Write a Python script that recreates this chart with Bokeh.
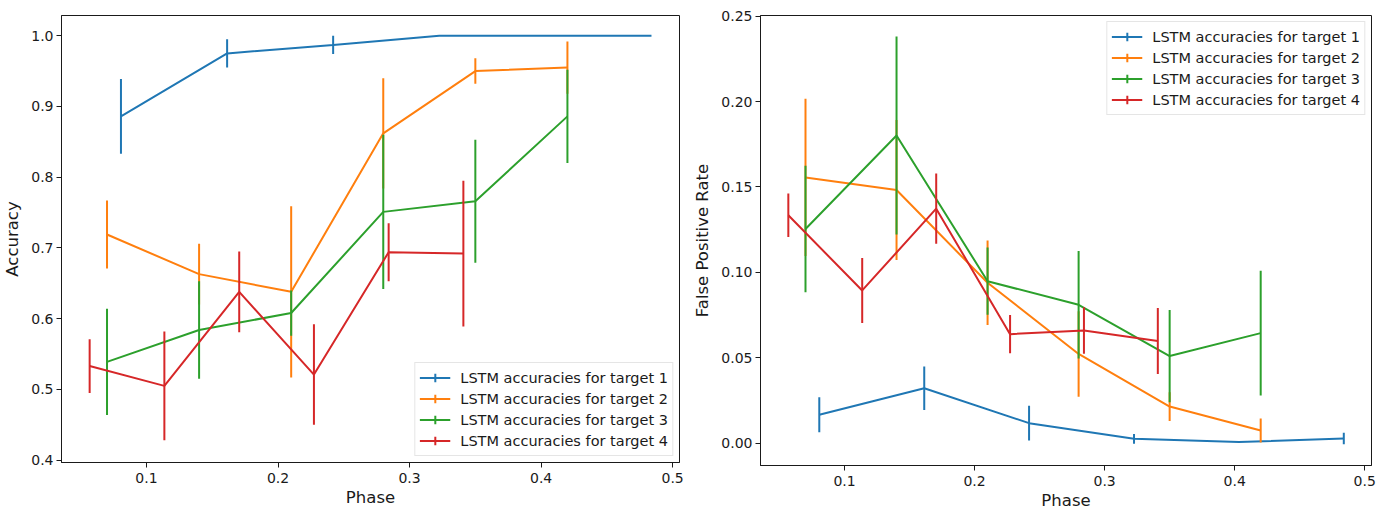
from bokeh.plotting import figure
from bokeh.layouts import row
from bokeh.models import (Range1d, FixedTicker, Legend, LegendItem, ColumnDataSource,
                          PrintfTickFormatter, Title, Spacer)
from bokeh.embed import file_html
from bokeh.resources import INLINE

# ---------------- data ----------------
labels = ["LSTM accuracies for target 1", "LSTM accuracies for target 2",
          "LSTM accuracies for target 3", "LSTM accuracies for target 4"]
colors = ["#1f77b4", "#ff7f0e", "#2ca02c", "#d62728"]

phase_t1 = [0.0806, 0.1613, 0.2419, 0.3226, 0.4032, 0.4839]
phase_t2 = [0.07, 0.14, 0.21, 0.28, 0.35, 0.42]
phase_t3 = [0.07, 0.14, 0.21, 0.28, 0.35, 0.42]
phase_t4 = [0.0568, 0.1136, 0.1705, 0.2273, 0.2841, 0.3409]

acc_t1 = [0.886, 0.975, 0.987, 1.0, 1.0, 1.0]
acc_err_t1 = [0.053, 0.020, 0.013, 0.0, 0.0, 0.0]
acc_t2 = [0.719, 0.663, 0.638, 0.862, 0.950, 0.955]
acc_err_t2 = [0.048, 0.043, 0.121, 0.078, 0.018, 0.037]
acc_t3 = [0.539, 0.584, 0.608, 0.751, 0.766, 0.886]
acc_err_t3 = [0.075, 0.069, 0.032, 0.109, 0.087, 0.066]
acc_t4 = [0.533, 0.505, 0.638, 0.521, 0.694, 0.692]
acc_err_t4 = [0.038, 0.077, 0.057, 0.071, 0.041, 0.103]

fpr_t1 = [0.0166, 0.0321, 0.0117, 0.0025, 0.0006, 0.0027]
fpr_err_t1 = [0.0102, 0.0127, 0.0102, 0.0028, 0.0, 0.0034]
fpr_t2 = [0.1556, 0.1482, 0.0939, 0.0522, 0.0214, 0.0074]
fpr_err_t2 = [0.046, 0.041, 0.0247, 0.025, 0.0084, 0.007]
fpr_t3 = [0.1254, 0.1801, 0.0948, 0.081, 0.051, 0.0644]
fpr_err_t3 = [0.037, 0.058, 0.0197, 0.0315, 0.027, 0.0365]
fpr_t4 = [0.1334, 0.0894, 0.1373, 0.0638, 0.066, 0.0598]
fpr_err_t4 = [0.0127, 0.019, 0.0206, 0.0112, 0.0136, 0.0193]

x_ticks = [0.1, 0.2, 0.3, 0.4, 0.5]
acc_ticks = [0.4, 0.5, 0.6, 0.7, 0.8, 0.9, 1.0]
fpr_ticks = [0.0, 0.05, 0.10, 0.15, 0.20, 0.25]

phases = [phase_t1, phase_t2, phase_t3, phase_t4]
acc_vals = [acc_t1, acc_t2, acc_t3, acc_t4]
acc_errs = [acc_err_t1, acc_err_t2, acc_err_t3, acc_err_t4]
fpr_vals = [fpr_t1, fpr_t2, fpr_t3, fpr_t4]
fpr_errs = [fpr_err_t1, fpr_err_t2, fpr_err_t3, fpr_err_t4]

FONT = "DejaVu Sans"
INK = "#1a1a1a"
X_RANGE = (0.0354, 0.5052)


def style_axes(p, yticks, yfmt, ylabel):
    p.xgrid.visible = False
    p.ygrid.visible = False
    p.outline_line_color = INK
    p.outline_line_width = 1
    p.xaxis.ticker = FixedTicker(ticks=x_ticks)
    p.yaxis.ticker = FixedTicker(ticks=yticks)
    p.xaxis.formatter = PrintfTickFormatter(format="%.1f")
    p.yaxis.formatter = PrintfTickFormatter(format=yfmt)
    p.yaxis.axis_label = ylabel
    for ax in (p.xaxis[0], p.yaxis[0]):
        ax.axis_line_color = INK
        ax.major_tick_line_color = INK
        ax.minor_tick_line_color = None
        ax.major_tick_in = 0
        ax.major_tick_out = 5
        ax.major_label_text_font = FONT
        ax.major_label_text_font_size = "14px"
        ax.major_label_text_color = INK
        ax.axis_label_text_font = FONT
        ax.axis_label_text_font_size = "16.5px"
        ax.axis_label_text_font_style = "normal"
        ax.axis_label_text_color = INK
    p.xaxis.major_label_standoff = 5
    p.yaxis.major_label_standoff = 3
    p.yaxis.axis_label_standoff = 6


def make_panel(vals, errs, y_range, yticks, yfmt, ylabel, legend_loc,
               fw, h, top):
    p = figure(output_backend="svg", toolbar_location=None,
               frame_width=fw, height=h,
               x_range=Range1d(*X_RANGE), y_range=Range1d(*y_range),
               min_border_top=top, min_border_right=5, min_border_bottom=0,
               background_fill_color="white", border_fill_color="white")
    style_axes(p, yticks, yfmt, ylabel)
    items = []
    for k in range(4):
        xs = phases[k]
        ys = vals[k]
        es = errs[k]
        src = ColumnDataSource(dict(
            x=xs, y=ys,
            lo=[y - e for y, e in zip(ys, es)],
            hi=[y + e for y, e in zip(ys, es)]))
        ln = p.line("x", "y", source=src, line_color=colors[k], line_width=2)
        p.segment(x0="x", y0="lo", x1="x", y1="hi", source=src,
                  line_color=colors[k], line_width=2)
        # zero-size markers: only their legend glyph (a cross) is visible
        mk = p.scatter("x", "y", source=src, marker="cross",
                       line_color=colors[k], line_width=2, size=0)
        items.append(LegendItem(label=labels[k], renderers=[ln, mk]))
    legend = Legend(items=items, location=legend_loc,
                    label_text_font=FONT, label_text_font_size="14.5px",
                    label_text_color=INK,
                    glyph_width=31, glyph_height=21, label_height=21,
                    label_standoff=10, spacing=0, padding=4, margin=6,
                    border_line_color="#cccccc", border_line_width=1,
                    background_fill_color="white", background_fill_alpha=0.85)
    p.add_layout(legend)
    # x-axis title below the tick labels
    p.add_layout(Title(text="Phase", align="center", text_font=FONT,
                       text_font_size="16.5px", text_font_style="normal",
                       text_color=INK, standoff=0, offset=0), "below")
    return p


left = make_panel(acc_vals, acc_errs, (0.3967, 1.0286), acc_ticks, "%.1f",
                  "Accuracy", "bottom_right", 618, 506, 7)
right = make_panel(fpr_vals, fpr_errs, (-0.0131, 0.2504), fpr_ticks, "%.2f",
                   "False Positive Rate", "top_right", 611, 509, 15)

layout = row(left, Spacer(width=6, height=500), right)
open("out.html", "w").write(file_html(layout, INLINE))
